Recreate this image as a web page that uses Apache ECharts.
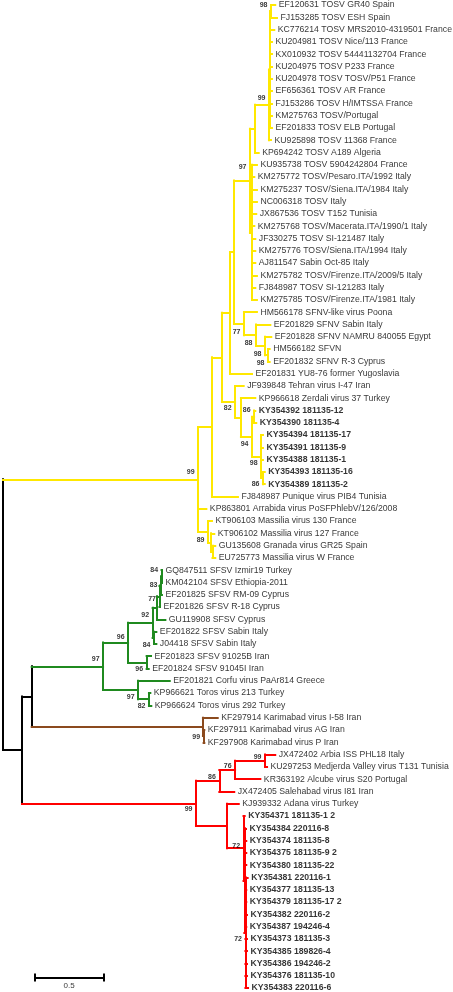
<!DOCTYPE html>
<html><head><meta charset="utf-8">
<script src="https://cdn.jsdelivr.net/npm/echarts@6/dist/echarts.min.js"></script>
<style>html,body{margin:0;padding:0;background:#fff}#c{width:453px;height:992px}</style>
</head><body><div id="c"></div>
<script>
// ---- data: leaves (top to bottom) ----
const leafNames = [
"EF120631 TOSV GR40 Spain","FJ153285 TOSV ESH Spain","KC776214 TOSV MRS2010-4319501 France",
"KU204981 TOSV Nice/113 France","KX010932 TOSV 54441132704 France","KU204975 TOSV P233 France",
"KU204978 TOSV TOSV/P51 France","EF656361 TOSV AR France","FJ153286 TOSV H/IMTSSA France",
"KM275763 TOSV/Portugal","EF201833 TOSV ELB Portugal","KU925898 TOSV 11368 France",
"KP694242 TOSV A189 Algeria","KU935738 TOSV 5904242804 France","KM275772 TOSV/Pesaro.ITA/1992 Italy",
"KM275237 TOSV/Siena.ITA/1984 Italy","NC006318 TOSV Italy","JX867536 TOSV T152 Tunisia",
"KM275768 TOSV/Macerata.ITA/1990/1 Italy","JF330275 TOSV SI-121487 Italy","KM275776 TOSV/Siena.ITA/1994 Italy",
"AJ811547 Sabin Oct-85 Italy","KM275782 TOSV/Firenze.ITA/2009/5 Italy","FJ848987 TOSV SI-121283 Italy",
"KM275785 TOSV/Firenze.ITA/1981 Italy","HM566178 SFNV-like virus Poona","EF201829 SFNV Sabin Italy",
"EF201828 SFNV NAMRU 840055 Egypt","HM566182 SFVN","EF201832 SFNV R-3 Cyprus",
"EF201831 YU8-76 former Yugoslavia","JF939848 Tehran virus I-47 Iran","KP966618 Zerdali virus 37 Turkey",
"KY354392 181135-12","KY354390 181135-4","KY354394 181135-17","KY354391 181135-9",
"KY354388 181135-1","KY354393 181135-16","KY354389 181135-2",
"FJ848987 Punique virus PIB4 Tunisia","KP863801 Arrabida virus PoSFPhlebV/126/2008",
"KT906103 Massilia virus 130 France","KT906102 Massilia virus 127 France","GU135608 Granada virus GR25 Spain",
"EU725773 Massilia virus W France","GQ847511 SFSV Izmir19 Turkey","KM042104 SFSV Ethiopia-2011",
"EF201825 SFSV RM-09 Cyprus","EF201826 SFSV R-18 Cyprus","GU119908 SFSV Cyprus",
"EF201822 SFSV Sabin Italy","J04418 SFSV Sabin Italy","EF201823 SFSV 91025B Iran",
"EF201824 SFSV 91045I Iran","EF201821 Corfu virus PaAr814 Greece","KP966621 Toros virus 213 Turkey",
"KP966624 Toros virus 292 Turkey","KF297914 Karimabad virus I-58 Iran","KF297911 Karimabad virus AG Iran",
"KF297908 Karimabad virus P Iran","JX472402 Arbia ISS PHL18 Italy","KU297253 Medjerda Valley virus T131 Tunisia",
"KR363192 Alcube virus S20 Portugal","JX472405 Salehabad virus I81 Iran","KJ939332 Adana virus Turkey",
"KY354371 181135-1 2","KY354384 220116-8","KY354374 181135-8","KY354375 181135-9 2",
"KY354380 181135-22","KY354381 220116-1","KY354377 181135-13","KY354379 181135-17 2",
"KY354382 220116-2","KY354387 194246-4","KY354373 181135-3","KY354385 189826-4",
"KY354386 194246-2","KY354376 181135-10","KY354383 220116-6"
];
// distance of each tip from the root (substitutions/site)
const leafDepth = [
1.992,2.005,1.985,1.968,1.968,1.968,1.968,1.968,1.968,1.968,1.968,1.961,
1.871,1.858,1.839,1.858,1.858,1.853,1.839,1.846,1.846,1.846,1.858,1.846,1.858,
1.858,1.956,1.963,1.951,1.951,1.822,1.761,1.846,1.846,1.853,
1.902,1.902,1.902,1.915,1.915,1.719,1.488,1.529,1.546,1.553,1.553,
1.163,1.163,1.163,1.149,1.188,1.122,1.122,1.083,1.066,1.220,1.078,1.085,
1.571,1.473,1.473,1.992,1.932,1.883,1.692,1.725,
1.768,1.778,1.780,1.780,1.780,1.790,1.780,1.780,1.785,1.780,1.785,1.785,1.785,1.785,1.793
];
const boldLeaves = [33,34,35,36,37,38,39,66,67,68,69,70,71,72,73,74,75,76,77,78,79,80];
// internal nodes: [id, depth from root, children (leaf index or node id), bootstrap]
const nodes = [
["nab",1.961,[0,1],"98"],
["a2",1.954,["nab",2,3,4,5,6,7,8,9,10],""],
["a1",1.946,["a2",11],"99"],
["U",1.844,["a1",12],""],
["A",1.822,[13,14,15,16,17,18,19,20,21,22,23,24],""],
["T",1.807,["U","A"],"97"],
["F4",1.939,[28,29],"98"],
["F3",1.917,[27,"F4"],"98"],
["F2",1.851,[26,"F3"],"88"],
["F1",1.763,[25,"F2"],"77"],
["S",1.690,["T","F1"],""],
["R",1.661,["S",30],""],
["P34",1.837,[33,34],"86"],
["X",1.902,[38,39],"86"],
["V",1.888,[35,36,37,"X"],"98"],
["W",1.822,["P34","V"],"94"],
["Z",1.741,[32,"W"],""],
["K82",1.698,[31,"Z"],"82"],
["Q",1.602,["R","K82"],""],
["N212",1.529,["Q",40],""],
["M3",1.533,[44,45],""],
["M2",1.522,[43,"M3"],""],
["M",1.500,[42,"M2"],"89"],
["Y0",1.427,["N212",41,"M"],"99"],
["n1",1.160,[46,47],"84"],
["n2",1.156,["n1",48],"83"],
["n3",1.145,["n2",49],"77"],
["n4",1.127,["n3",50],""],
["J",1.105,[51,52],"84"],
["n92",1.095,["n4","J"],"92"],
["IR",1.051,[53,54],"96"],
["G1",0.915,["n92","IR"],"96"],
["TR",1.068,[56,57],"82"],
["CT",0.988,[55,"TR"],"97"],
["G",0.732,["G1","CT"],"97"],
["K2",1.468,[59,60],"99"],
["K",1.463,[58,"K2"],""],
["C",0.210,["G","K"],""],
["P1",1.917,[61,62],"99"],
["P2",1.698,["P1",63],"76"],
["P3",1.583,["P2",64],"86"],
["KYc",1.774,[71,72,73,74,75,76,77,78,79,80],"72"],
["KYb",1.766,[67,68,69,70,"KYc"],""],
["KYa",1.760,[66,"KYb"],"72"],
["RB",1.639,[65,"KYa"],""],
["RR",1.412,["P3","RB"],"99"],
["B",0.139,["C","RR"],""],
["root",0,["Y0","B"],""]
];
const scaleBarLength = 0.5;

// ---- layout / style (not data) ----
const cladeColor = {Y0:"#FFE800", G:"#1F8A1F", K:"#8B4A1E", RR:"#FF0000"};
const supportDy = {nab:-6,a1:-7,T:-13,F1:8,F2:8,F3:8,F4:8,K82:6,P34:-7,W:7,V:6,X:6,Y0:-7,M:8,
  n1:-6,n2:-1,n3:3,n92:-8,J:7,IR:7,G1:-6,G:-7,CT:7,TR:7,K2:1,P1:-4,P2:-4,P3:-4,RR:6,KYa:-2,KYc:6};
const scaleBarPos = {x:0.234, row:79.15};
const FONT = "'Liberation Sans', Arial, sans-serif";

const nodeMap = {};
nodes.forEach(n => nodeMap[n[0]] = {id:n[0], depth:n[1], children:n[2], support:n[3]});
function yOf(c){ return typeof c === "number" ? c : nodeMap[c].y; }
function depthOf(c){ return typeof c === "number" ? leafDepth[c] : nodeMap[c].depth; }
function layout(id){
  const n = nodeMap[id];
  n.children.forEach(c => { if (typeof c !== "number") layout(c); });
  n.y = (yOf(n.children[0]) + yOf(n.children[n.children.length-1])) / 2;
}
layout("root");

const segs = [];
function walk(id, color){
  const n = nodeMap[id];
  const col = cladeColor[id] || color;
  segs.push({c:col, p:[[n.depth, yOf(n.children[0])],[n.depth, yOf(n.children[n.children.length-1])]]});
  n.children.forEach(c => {
    const cc = (typeof c === "number") ? col : (cladeColor[c] || col);
    segs.push({c:cc, p:[[n.depth, yOf(c)],[depthOf(c), yOf(c)]]});
    if (typeof c !== "number") walk(c, col);
  });
}
walk("root", "#000000");

// scale bar
const sb = [
  [[scaleBarPos.x, scaleBarPos.row],[scaleBarPos.x + scaleBarLength, scaleBarPos.row]],
  [[scaleBarPos.x, scaleBarPos.row-0.33],[scaleBarPos.x, scaleBarPos.row+0.33]],
  [[scaleBarPos.x+scaleBarLength, scaleBarPos.row-0.33],[scaleBarPos.x+scaleBarLength, scaleBarPos.row+0.33]]
];

const chart = echarts.init(document.getElementById("c"), null, {renderer:"canvas"});
chart.setOption({
  animation:false,
  grid:{left:3, right:40, top:5, bottom:4},
  xAxis:{type:"value", min:0, max:3, show:false},
  yAxis:{type:"value", min:0, max:80, inverse:true, show:false},
  series:[
    {type:"lines", coordinateSystem:"cartesian2d", silent:true, z:2,
     lineStyle:{width:2, opacity:1, cap:"square"},
     data: segs.map(s => ({coords:s.p, lineStyle:{color:s.c, width:2, opacity:1}}))},
    {type:"lines", coordinateSystem:"cartesian2d", silent:true, z:2,
     lineStyle:{width:2, opacity:1, color:"#000"},
     data: sb.map(p => ({coords:p}))},
    {type:"scatter", silent:true, symbolSize:1, itemStyle:{color:"rgba(0,0,0,0)"}, z:3,
     label:{show:true, position:"right", distance:3, color:"#000", fontSize:8.7, fontFamily:FONT,
            formatter: p => p.data.name},
     data: leafNames.map((nm,i) => ({name:nm, value:[leafDepth[i], i],
            label:{fontWeight: boldLeaves.includes(i) ? "bold" : "normal"}}))},
    {type:"scatter", silent:true, symbolSize:1, itemStyle:{color:"rgba(0,0,0,0)"}, z:3,
     label:{show:true, position:"left", distance:3, color:"#000", fontSize:7, fontWeight:"bold", fontFamily:FONT,
            formatter: p => p.data.name},
     data: nodes.filter(n => n[3]).map(n => ({name:n[3], value:[nodeMap[n[0]].depth, nodeMap[n[0]].y],
            label:{offset:[0, supportDy[n[0]] || 0]}}))},
    {type:"scatter", silent:true, symbolSize:1, itemStyle:{color:"rgba(0,0,0,0)"}, z:3,
     label:{show:true, position:"bottom", distance:4, color:"#000", fontSize:8, fontFamily:FONT,
            formatter: "0.5"},
     data:[{name:"0.5", value:[scaleBarPos.x + scaleBarLength/2, scaleBarPos.row]}]}
  ]
});
</script>
</body></html>
